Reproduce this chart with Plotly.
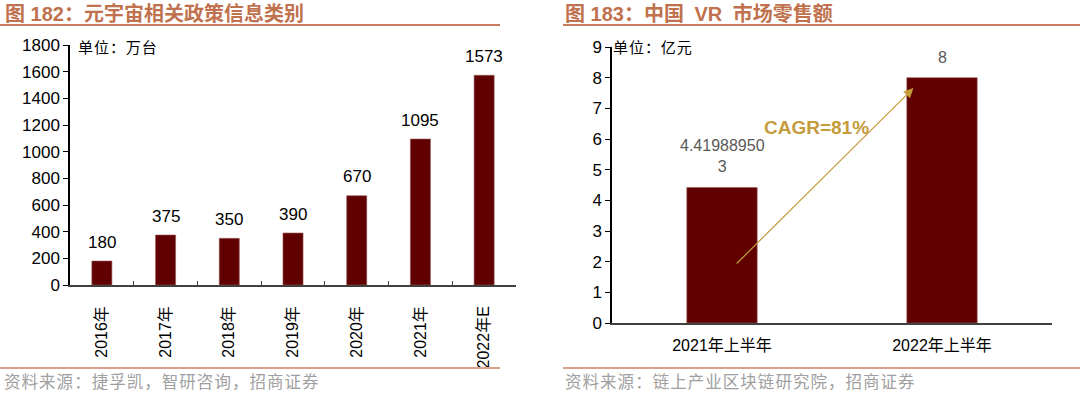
import plotly.graph_objects as go

# ---- data ----
left_categories = ["2016年", "2017年", "2018年", "2019年", "2020年", "2021年", "2022年E"]
left_values = [180, 375, 350, 390, 670, 1095, 1573]

right_categories = ["2021年上半年", "2022年上半年"]
right_values = [4.419889503, 8]
right_labels = ["4.41988950<br>3", "8"]

left_title = "图 182：元宇宙相关政策信息类别"
right_title = "图 183：中国 \u2005VR \u2005市场零售额"
left_unit = "单位：万台"
right_unit = "单位：亿元"
left_source = "资料来源：捷孚凯，智研咨询，招商证券"
right_source = "资料来源：链上产业区块链研究院，招商证券"
cagr_text = "CAGR=81%"

W, H = 1080, 393
BAR = "#600000"
TITLE_C = "#c0714d"
GOLD = "#c49c3c"
FONT = "Liberation Sans, Arial, Noto Sans CJK SC, sans-serif"
CJK = "Noto Sans CJK SC, sans-serif"


def px(x):
    return x / W


def py(y):
    return 1 - y / H


def spaced(s):
    return "\u200a".join(s)


fig = go.Figure()
fig.add_trace(go.Bar(x=left_categories, y=left_values, marker=dict(color=BAR, line=dict(color="#9a5a5a", width=0.6)),
                     xaxis="x", yaxis="y", width=0.315, hoverinfo="skip"))
fig.add_trace(go.Bar(x=right_categories, y=right_values, marker=dict(color=BAR, line=dict(color="#9a5a5a", width=0.6)),
                     xaxis="x2", yaxis="y2", width=0.32, hoverinfo="skip"))

annotations = []
for c, v in zip(left_categories, left_values):
    annotations.append(dict(x=c, y=v, xref="x", yref="y", text=str(v), showarrow=False,
                            yanchor="middle", yshift=19, font=dict(size=17, color="#000", family=FONT)))
for c, v, t in zip(right_categories, right_values, right_labels):
    annotations.append(dict(x=c, y=v, xref="x2", yref="y2", text=t, showarrow=False,
                            yanchor="bottom", yshift=10, font=dict(size=16, color="#595959", family=FONT)))

# CAGR arrow
annotations.append(dict(x=0.87, y=7.66, ax=0.06, ay=1.89, xref="x2", yref="y2", axref="x2", ayref="y2",
                        text="", showarrow=True, arrowhead=2, arrowsize=1.6, arrowwidth=1.2, arrowcolor=GOLD))
annotations.append(dict(x=0.43, y=6.36, xref="x2", yref="y2", text="<b>" + cagr_text + "</b>", showarrow=False,
                        font=dict(size=19, color=GOLD, family=FONT)))

# titles, units, sources
annotations += [
    dict(x=px(3), y=py(13), xref="paper", yref="paper", xanchor="left", yanchor="middle", showarrow=False,
         text="<b>" + left_title + "</b>", font=dict(size=20, color=TITLE_C, family=FONT)),
    dict(x=px(563), y=py(13), xref="paper", yref="paper", xanchor="left", yanchor="middle", showarrow=False,
         text="<b>" + right_title + "</b>", font=dict(size=20, color=TITLE_C, family=FONT)),
    dict(x=px(76), y=py(46), xref="paper", yref="paper", xanchor="left", yanchor="middle", showarrow=False,
         text=spaced(left_unit), font=dict(size=15, color="#000", family=CJK)),
    dict(x=px(611), y=py(46), xref="paper", yref="paper", xanchor="left", yanchor="middle", showarrow=False,
         text=spaced(right_unit), font=dict(size=15, color="#000", family=CJK)),
    dict(x=px(2), y=py(381), xref="paper", yref="paper", xanchor="left", yanchor="middle", showarrow=False,
         text=spaced(left_source), font=dict(size=16.5, color="#a0a0a0", family=CJK)),
    dict(x=px(563), y=py(381), xref="paper", yref="paper", xanchor="left", yanchor="middle", showarrow=False,
         text=spaced(right_source), font=dict(size=16.5, color="#a0a0a0", family=CJK)),
]

shapes = [
    dict(type="line", xref="paper", yref="paper", x0=0, x1=px(500), y0=py(25), y1=py(25),
         line=dict(color="#c87a5c", width=2)),
    dict(type="line", xref="paper", yref="paper", x0=px(563), x1=1, y0=py(25), y1=py(25),
         line=dict(color="#c87a5c", width=2)),
    dict(type="line", xref="paper", yref="paper", x0=0, x1=px(500), y0=py(368), y1=py(368),
         line=dict(color="#d9a08e", width=2)),
    dict(type="line", xref="paper", yref="paper", x0=px(563), x1=1, y0=py(368), y1=py(368),
         line=dict(color="#d9a08e", width=2)),
]

tickfont = dict(size=17, color="#000", family=FONT)
fig.update_layout(
    width=W, height=H, margin=dict(l=0, r=0, t=0, b=0, autoexpand=False),
    paper_bgcolor="white", plot_bgcolor="white", showlegend=False,
    annotations=annotations, shapes=shapes,
    xaxis=dict(domain=[px(70), px(516)], anchor="y", type="category", tickangle=-90, automargin=False,
               showline=True, linecolor="#404040", linewidth=1.5, ticks="inside", tickson="boundaries",
               ticklen=4, tickcolor="#404040", tickfont=dict(size=16, color="#000", family=FONT),
               showgrid=False, ticklabelstandoff=13),
    yaxis=dict(domain=[py(285), py(45)], anchor="x", range=[0, 1800], dtick=200, automargin=False,
               showline=True, linecolor="#000", linewidth=1.5, ticks="outside", ticklen=5,
               tickcolor="#000", tickfont=tickfont, showgrid=False, zeroline=False),
    xaxis2=dict(domain=[px(612), px(1052)], anchor="y2", type="category", automargin=False,
                showline=True, linecolor="#404040", linewidth=2, ticks="", tickfont=dict(size=16, color="#000", family=FONT),
                showgrid=False, ticklabelstandoff=7),
    yaxis2=dict(domain=[py(323), py(47)], anchor="x2", range=[0, 9], dtick=1, automargin=False,
                showline=True, linecolor="#000", linewidth=1.5, ticks="outside", ticklen=5,
                tickcolor="#000", tickfont=tickfont, showgrid=False, zeroline=False),
)

fig.write_html("out.html", config={"displayModeBar": False},
               post_script="document.body.style.margin='0';document.body.style.overflow='hidden';")
